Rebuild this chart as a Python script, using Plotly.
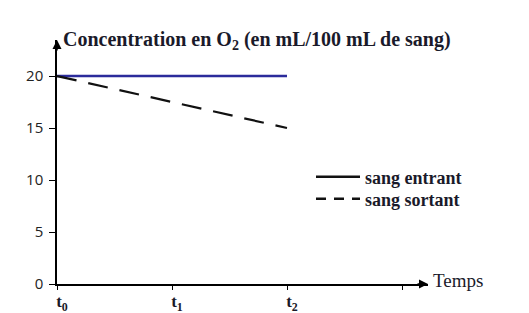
import plotly.graph_objects as go

# Data
time_vals = [0, 1, 2]
time_labels = ["<b>t<sub>0</sub></b>", "<b>t<sub>1</sub></b>", "<b>t<sub>2</sub></b>", ""]
entrant = [20, 20, 20]
sortant = [20, 17.5, 15]
y_ticks = [0, 5, 10, 15, 20]
legend_names = ["<b>sang entrant</b>", "<b>sang sortant</b>"]

W, H = 529, 313
ml, mr, mt, mb = 57, 101, 40, 29
pw, ph = W - ml - mr, H - mt - mb
xmax = pw / 115.0
ymax = ph / 10.4

serif = "Liberation Serif"
fig = go.Figure()
fig.add_trace(go.Scatter(x=time_vals, y=entrant, mode="lines", showlegend=False,
                         line=dict(color="#2b2b9b", width=2.4)))
fig.add_trace(go.Scatter(x=time_vals, y=sortant, mode="lines", showlegend=False,
                         line=dict(color="#111111", width=2.2, dash="20px,12px")))
# legend entries (legend samples are black in the reference)
fig.add_trace(go.Scatter(x=[None], y=[None], mode="lines", name=legend_names[0],
                         legend="legend", line=dict(color="#111111", width=2.5)))
fig.add_trace(go.Scatter(x=[None], y=[None], mode="lines", name=legend_names[1],
                         legend="legend2", line=dict(color="#111111", width=2.5, dash="10px,8px")))

leg_common = dict(xanchor="left", yanchor="middle", bgcolor="rgba(0,0,0,0)",
                  font=dict(family=serif, size=18, color="#1a1a2a"), itemwidth=44)
fig.update_layout(
    width=W, height=H, margin=dict(l=ml, r=mr, t=mt, b=mb),
    plot_bgcolor="white", paper_bgcolor="white",
    showlegend=True,
    legend=dict(x=(311 - ml) / pw, y=(284 - 177) / ph, **leg_common),
    legend2=dict(x=(311 - ml) / pw, y=(284 - 199) / ph, **leg_common),
    xaxis=dict(range=[0, xmax], showgrid=False, zeroline=False, showline=True, automargin=False,
               linecolor="black", linewidth=1.5, tickvals=[0, 1, 2, 3], ticktext=time_labels,
               ticks="outside", ticklen=4, tickcolor="black", ticklabelshift=5,
               ticklabelstandoff=-3,
               tickfont=dict(family=serif, size=17, color="#1a1a2a")),
    yaxis=dict(range=[0, ymax], showgrid=False, zeroline=False, showline=True, automargin=False,
               linecolor="black", linewidth=1.5, tickvals=y_ticks,
               ticks="outside", ticklen=6, tickcolor="black", ticklabelstandoff=3,
               tickfont=dict(family="Open Sans", size=15, color="#222222")),
)

# Axis arrowheads
fig.add_annotation(x=xmax, y=0, xref="x", yref="y", ax=-12, ay=0, showarrow=True,
                   arrowhead=2, arrowsize=1.2, arrowwidth=1.5, arrowcolor="black", text="")
fig.add_annotation(x=0, y=ymax, xref="x", yref="y", ax=0, ay=12, showarrow=True,
                   arrowhead=2, arrowsize=1.2, arrowwidth=1.5, arrowcolor="black", text="")

# Titles
fig.add_annotation(x=(61 - ml) / pw, y=(284 - 41) / ph, xref="paper", yref="paper",
                   xanchor="left", yanchor="middle", showarrow=False,
                   text="<b>Concentration en O<sub>2</sub> (en mL/100 mL de sang)</b>",
                   font=dict(family=serif, size=20, color="#1a1a2a"))
fig.add_annotation(x=(431 - ml) / pw, y=0, xref="paper", yref="paper",
                   xanchor="left", yanchor="middle", showarrow=False, yshift=4,
                   text="Temps", font=dict(family=serif, size=19, color="#1a1a2a"))

fig.write_html("out.html")
